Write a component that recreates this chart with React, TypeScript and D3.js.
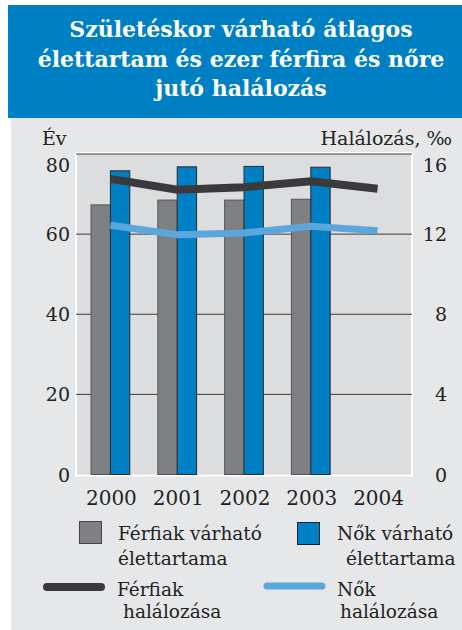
import React from "react";
import * as d3 from "d3";

const years = ["2000", "2001", "2002", "2003", "2004"];
const maleLife = [67.3, 68.5, 68.5, 68.7, null];
const femaleLife = [75.8, 76.8, 76.9, 76.7, null];
const maleMort = [14.76, 14.22, 14.34, 14.64, 14.27];
const femaleMort = [12.44, 11.97, 12.06, 12.39, 12.17];
const leftTicks = [0, 20, 40, 60, 80];
const rightTicks = [0, 4, 8, 12, 16];
const titleLines = ["Születéskor várható átlagos", "élettartam és ezer férfira és nőre", "jutó halálozás"];

const W = 462, H = 630;
const plot = { x0: 76, x1: 412, y0: 154, y1: 474.5 };
const FONT = "'DejaVu Serif', serif";
const BLUE = "#0080c4";
const GREY = "#7f8083";
const DARK = "#3a3a3c";
const LIGHT = "#5ba7dc";

export default function App() {
  const x = d3.scaleBand<string>().domain(years).range([plot.x0 + 1, plot.x1 - 1]).paddingInner(0.42).paddingOuter(0.21);
  const yL = d3.scaleLinear().domain([0, 80]).range([plot.y1, plot.y0]);
  const yR = d3.scaleLinear().domain([0, 16]).range([plot.y1, plot.y0]);
  const bw = x.bandwidth() / 2;
  const cx = (y: string) => (x(y) as number) + x.bandwidth() / 2;

  const lineGen = (vals: number[]) =>
    d3.line<number>().x((_, i) => cx(years[i])).y((v) => yR(v))(vals) as string;

  return (
    <svg width={W} height={H} style={{ position: "absolute", left: 0, top: 0 }} fontFamily={FONT}>
      <rect x={0} y={0} width={W} height={H} fill="#ffffff" />
      <rect x={8} y={5} width={W - 8} height={113} fill={BLUE} />
      {titleLines.map((t, i) => (
        <text key={i} x={241} y={37 + i * 29.5} textAnchor="middle" fill="#fff" fontWeight="bold" fontSize={22}>
          {t}
        </text>
      ))}
      <rect x={11} y={118} width={W - 11} height={H - 118} fill="#e6e7e9" />
      <rect x={plot.x0} y={plot.y0 - 1} width={plot.x1 - plot.x0} height={plot.y1 - plot.y0 + 2} fill="#dcdddf" stroke="#ffffff" strokeWidth={2} />
      {leftTicks.slice(1).map((t) => (
        <line key={t} x1={plot.x0} x2={plot.x1} y1={yL(t)} y2={yL(t)} stroke="#3c3c3c" strokeWidth={1} />
      ))}
      {years.map((yr, i) => {
        const m = maleLife[i];
        const f = femaleLife[i];
        const x0 = x(yr) as number;
        return (
          <g key={yr}>
            {m != null && (
              <rect x={x0} y={yL(m)} width={bw} height={yL(0) - yL(m)} fill={GREY} stroke="#555" strokeWidth={1} />
            )}
            {f != null && (
              <rect x={x0 + bw} y={yL(f)} width={bw} height={yL(0) - yL(f)} fill={BLUE} stroke="#2a2a2a" strokeWidth={1} />
            )}
          </g>
        );
      })}
      <path d={lineGen(maleMort)} fill="none" stroke={DARK} strokeWidth={8} />
      <path d={lineGen(femaleMort)} fill="none" stroke={LIGHT} strokeWidth={7} />
      {leftTicks.map((t) => (
        <text key={t} x={70} y={(t === 80 ? yL(t) + 11 : yL(t)) + 7} textAnchor="end" fontSize={19} fill="#222">
          {t}
        </text>
      ))}
      {rightTicks.map((t) => (
        <text key={t} x={447} y={(t === 16 ? yR(t) + 11 : yR(t)) + 7} textAnchor="end" fontSize={19} fill="#222">
          {t}
        </text>
      ))}
      <text x={42} y={145} fontSize={19} fill="#222">Év</text>
      <text x={452} y={145} textAnchor="end" fontSize={19} fill="#222">Halálozás, ‰</text>
      {years.map((yr) => (
        <text key={yr} x={cx(yr) + 1} y={505} textAnchor="middle" fontSize={20} fill="#222">
          {yr}
        </text>
      ))}
      <g fontSize={18.5} fill="#222">
        <rect x={79.5} y={521.5} width={22} height={22} fill={GREY} stroke="#444" strokeWidth={1} />
        <text x={118} y={540}>Férfiak várható</text>
        <text x={118} y={565}>élettartama</text>
        <rect x={297.5} y={522.5} width={22} height={22} fill={BLUE} stroke="#222" strokeWidth={1} />
        <text x={337} y={540}>Nők várható</text>
        <text x={346} y={565}>élettartama</text>
        <line x1={47} x2={101} y1={587} y2={587} stroke={DARK} strokeWidth={8} strokeLinecap="round" />
        <text x={117} y={596}>Férfiak</text>
        <text x={123} y={618}>halálozása</text>
        <line x1={267} x2={322} y1={586} y2={586} stroke={LIGHT} strokeWidth={7} strokeLinecap="round" />
        <text x={337} y={596}>Nők</text>
        <text x={340} y={618}>halálozása</text>
      </g>
    </svg>
  );
}
